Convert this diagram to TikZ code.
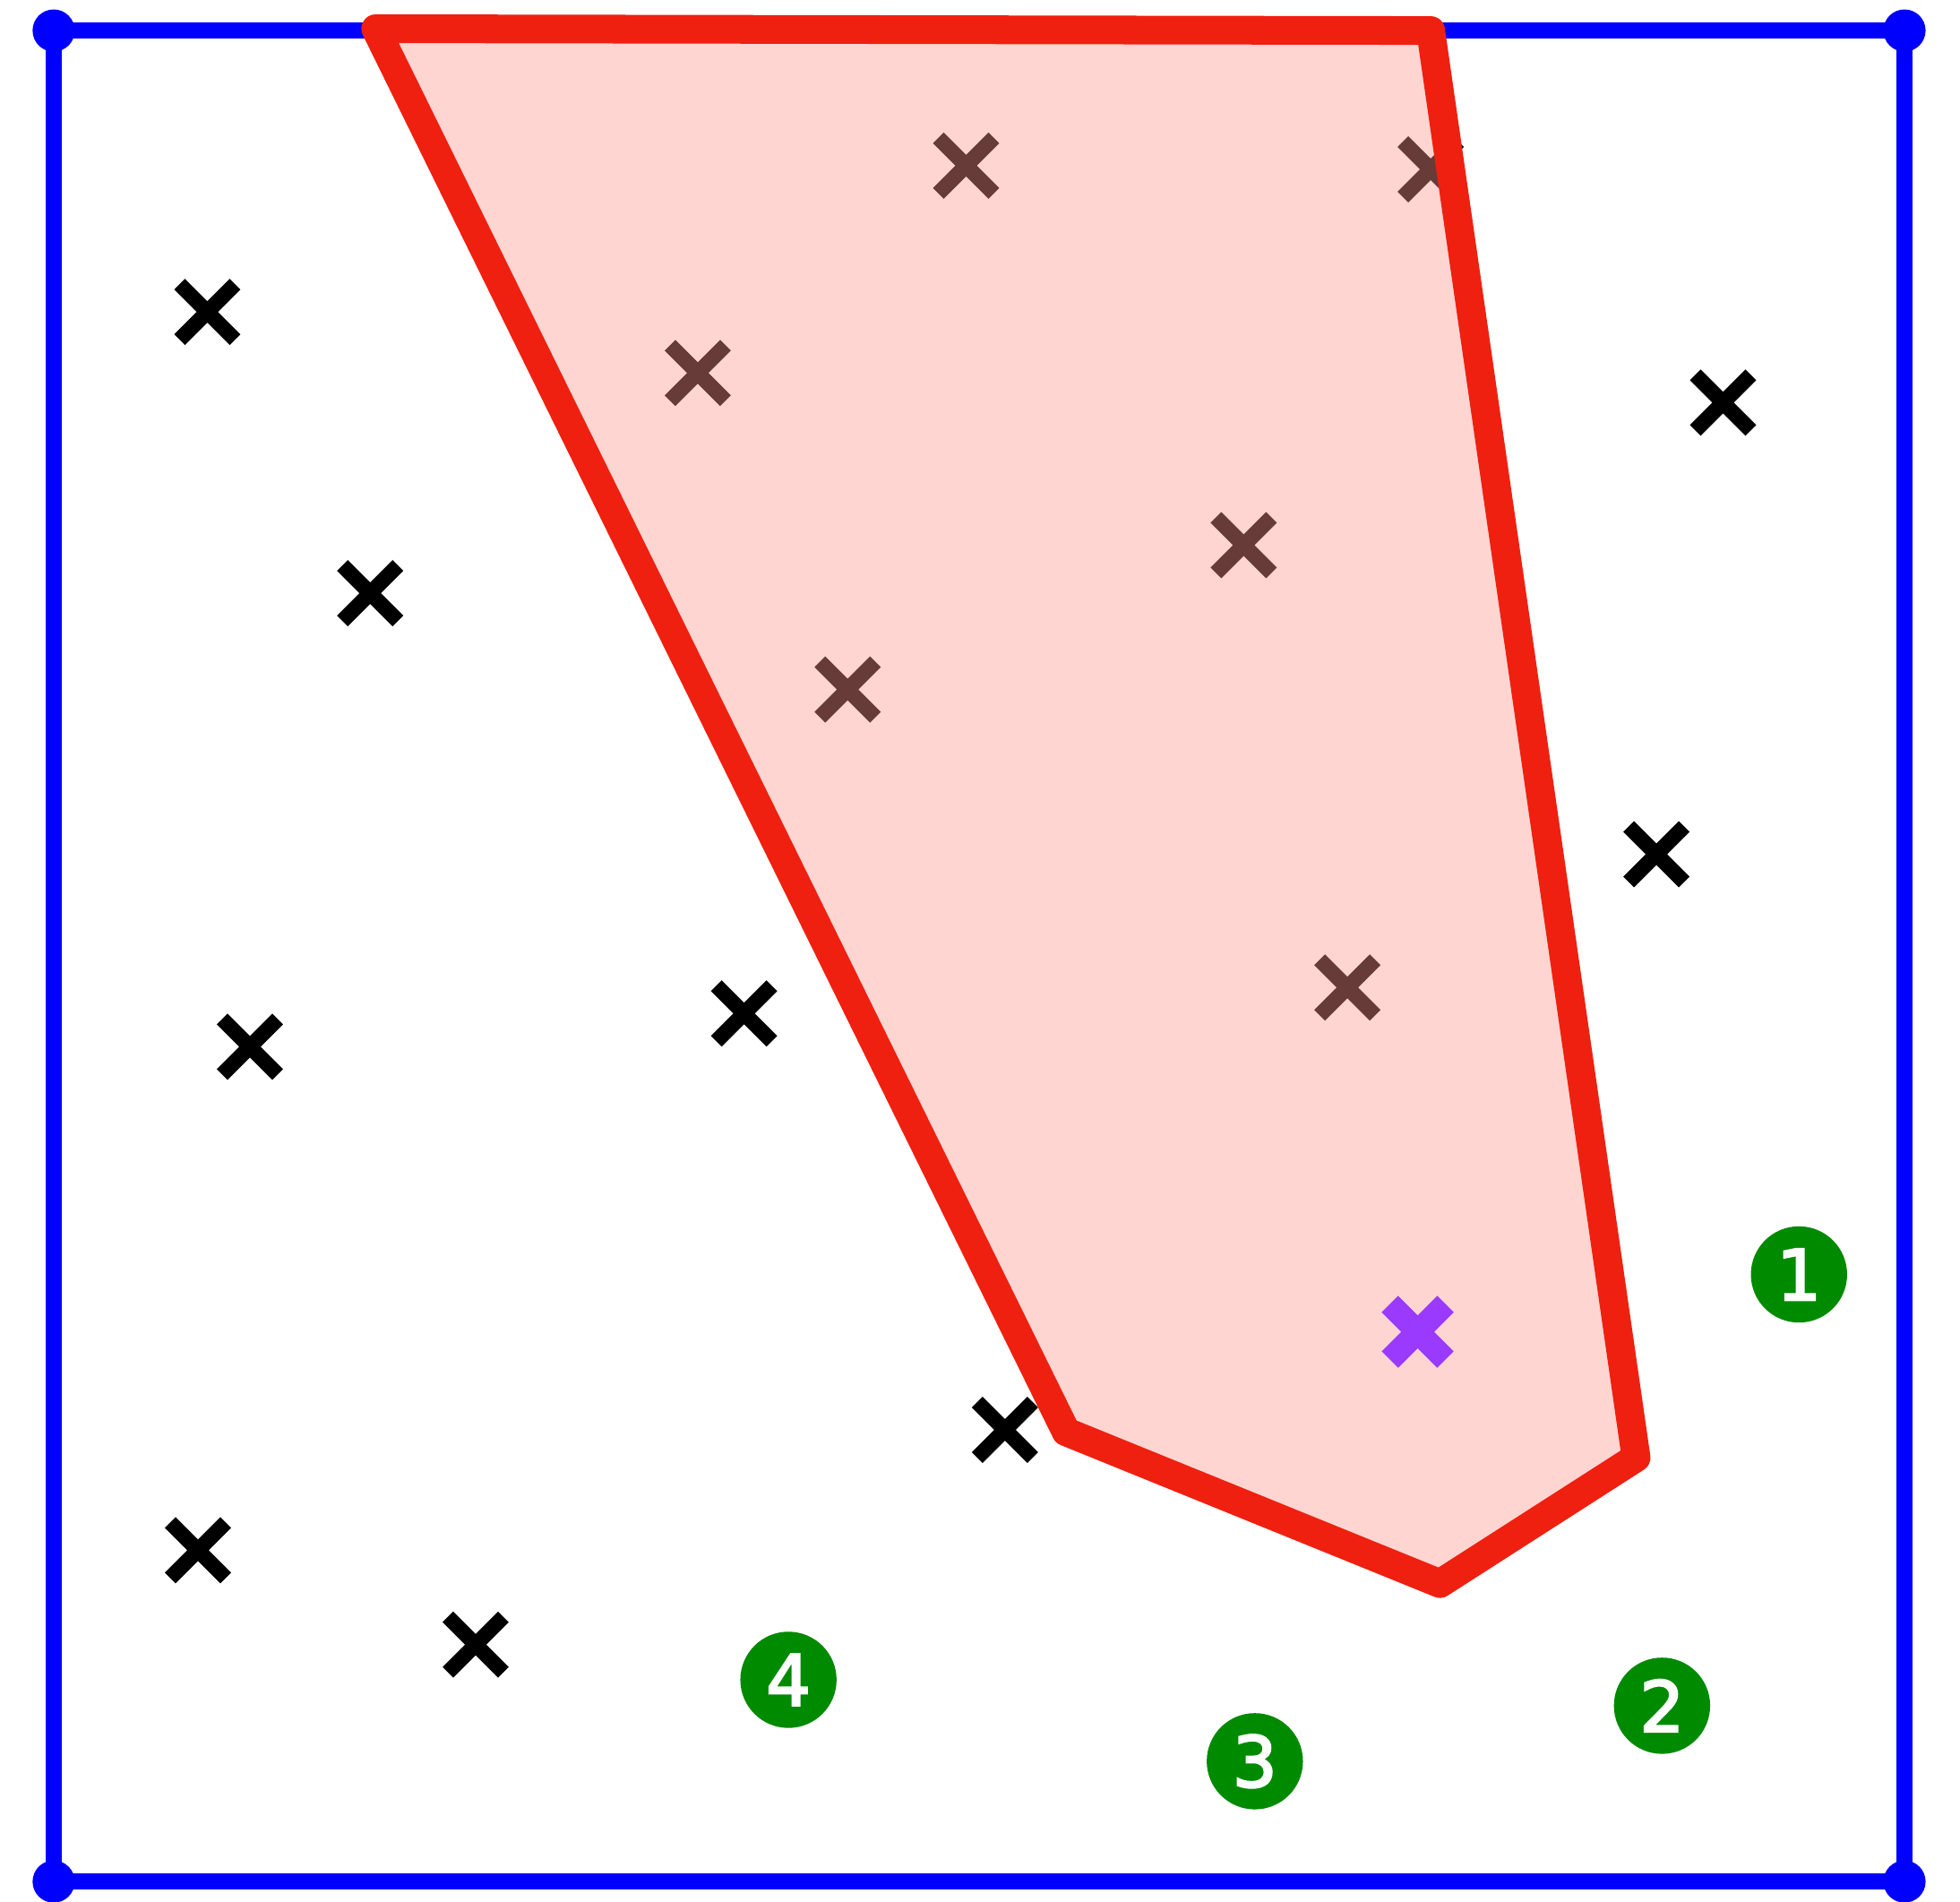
\documentclass[tikz,border=0pt]{standalone}
\usepackage{fontspec}
\newfontfamily\tagfont[FakeBold=3]{DejaVu Sans}
\usetikzlibrary{shapes.misc}
\definecolor{FrameBlue}{HTML}{0000FF}
\definecolor{HullRed}{HTML}{EF2010}
\definecolor{HullPink}{HTML}{FF958D}
\definecolor{PointBlack}{HTML}{000000}
\definecolor{PointPurple}{HTML}{9A3AFF}
\definecolor{TagGreen}{HTML}{008A00}
\tikzset{
    % Outer square
    frame line/.style={
        draw=FrameBlue,
        line width=0.087cm
    },
    frame dot/.style={
        circle,
        fill=FrameBlue,
        minimum size=0.228cm,
        inner sep=0pt
    },
    % Sample points
    point/.style={
        cross out,
        draw=PointBlack,
        line width=0.082cm,
        minimum size=0.3cm,
        inner sep=0pt,
        outer sep=0pt
    },
    point query/.style={
        point,
        draw=PointPurple,
        line width=0.126cm
    },
    % Polygon
    hull/.style={
        draw=HullRed,
        line width=0.155cm,
        line join=round,
        fill=HullPink,
        fill opacity=0.4
    },
    tag/.style={
        circle,
        fill=TagGreen,
        text=white,
        minimum size=0.52cm,
        inner sep=0pt,
        font=\tagfont\fontsize{10.8}{12}\selectfont
    }
}

\begin{document}
\begin{tikzpicture}
        \useasboundingbox (-0.29,-0.106) rectangle (10.30,10.165);

        % Square and its corners
        \node[frame dot] (sw) at (0,0) {};
        \node[frame dot] (se) at (10,0) {};
        \node[frame dot] (ne) at (10,10) {};
        \node[frame dot] (nw) at (0,10) {};
        \draw[frame line] (sw.center) -- (se.center) -- (ne.center) -- (nw.center) -- cycle;

        % Points outside
        \node[point] (p1) at (0.83,8.48) {};
        \node[point] (p2) at (1.71,6.96) {};
        \node[point] (p3) at (1.06,4.51) {};
        \node[point] (p4) at (0.78,1.79) {};
        \node[point] (p5) at (2.28,1.28) {};
        \node[point] (p6) at (3.73,4.69) {};
        \node[point] (p7) at (5.14,2.44) {};
        \node[point] (p8) at (9.02,7.99) {};
        \node[point] (p9) at (8.66,5.55) {};

        % Points inside
        \node[point] (q1) at (4.93,9.27) {};
        \node[point] (q2) at (7.44,9.25) {};
        \node[point] (q3) at (3.48,8.15) {};
        \node[point] (q4) at (6.43,7.22) {};
        \node[point] (q5) at (4.29,6.44) {};
        \node[point] (q6) at (6.99,4.83) {};

        % Polygon
        \coordinate (h1) at (1.74,10.01);
        \coordinate (h2) at (7.44,10.00);
        \coordinate (h3) at (8.55,2.29);
        \coordinate (h4) at (7.49,1.61);
        \coordinate (h5) at (5.47,2.43);
        \draw[hull] (h1) -- (h2) -- (h3) -- (h4) -- (h5) -- cycle;

        \node[point query] (query) at (7.37,2.97) {};

        % Numbered tags
        \node[tag] (t1) at (9.43,3.28) {1};
        \node[tag] (t2) at (8.69,0.95) {2};
        \node[tag] (t3) at (6.49,0.65) {3};
        \node[tag] (t4) at (3.97,1.09) {4};
    \end{tikzpicture}
\end{document}
